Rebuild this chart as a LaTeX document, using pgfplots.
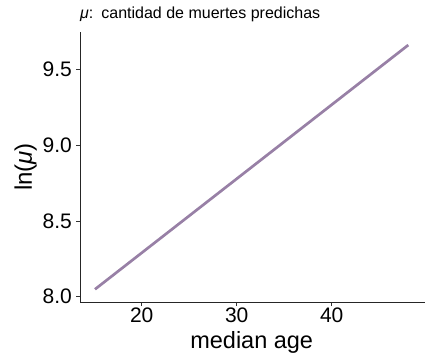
\documentclass[border=0pt]{standalone}
\usepackage{fontspec}
\setmainfont{Liberation Sans}
\usepackage{pgfplots}
\pgfplotsset{compat=1.18}
\definecolor{linec}{RGB}{152,128,166}
\begin{document}
\begin{tikzpicture}
\path[use as bounding box] (-80bp,-58bp) rectangle (352bp,302bp);
\begin{axis}[
  at={(0,0)}, anchor=south west,
  scale only axis, width=345bp, height=270bp,
  xmin=13.5, xmax=49.82, ymin=7.965, ymax=9.746,
  axis x line*=bottom, axis y line*=left,
  xtick={20,30,40}, ytick={8,8.5,9,9.5},
  yticklabel style={/pgf/number format/fixed, /pgf/number format/fixed zerofill, /pgf/number format/precision=1},
  /pgf/number format/assume math mode=true,
  tick align=outside, major tick length=4bp,
  tick style={black!80, line width=0.5pt},
  axis line style={line width=0.6pt, black!85},
  ticklabel style={font=\fontsize{21bp}{23bp}\selectfont, text=black, inner sep=1bp},
  xticklabel style={yshift=-0.5bp},
  yticklabel style={xshift=-3bp},
  clip=false,
]
\addplot[linec, line width=2.7bp] coordinates {(15.08,8.049) (48.06,9.66)};
\end{axis}
\node[anchor=base west, inner sep=0pt, font=\fontsize{16bp}{18bp}\selectfont] at (0bp,283.7bp) {\textit{μ}:\enspace cantidad de muertes predichas};
\node[anchor=base, inner sep=0pt, font=\fontsize{23.5bp}{26bp}\selectfont] at (171.7bp,-46.3bp) {median age};
\node[anchor=base, inner sep=0pt, rotate=90, font=\fontsize{24bp}{26bp}\selectfont] at (-48bp,135bp) {ln(\textit{μ})};
\end{tikzpicture}
\end{document}
